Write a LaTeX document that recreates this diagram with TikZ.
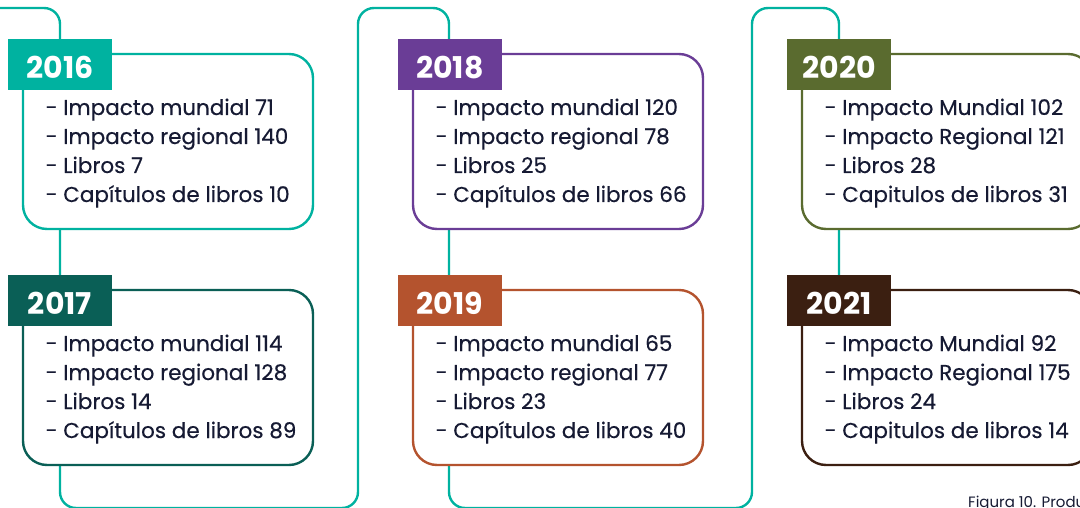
\documentclass[tikz,border=0pt]{standalone}
\usepackage{fontspec}
\setmainfont{Poppins}
\newfontfamily\itemfont[FakeBold=0.4]{Poppins}
\usetikzlibrary{calc}
\definecolor{tealc}{HTML}{00B2A0}
\definecolor{c16}{HTML}{00B2A0}
\definecolor{c17}{HTML}{0A5F56}
\definecolor{c18}{HTML}{6A3D96}
\definecolor{c19}{HTML}{B4532E}
\definecolor{c20}{HTML}{5A6B2F}
\definecolor{c21}{HTML}{3B1F11}
\definecolor{txt}{HTML}{161A33}
\tikzset{
  cardbox/.style={draw, line width=2.4pt, rounded corners=24pt, fill=white,
    minimum width=290pt, minimum height=175pt, inner sep=0pt, outer sep=0pt},
  yeartag/.style={minimum width=104pt, minimum height=51pt, inner sep=0pt},
  yeartext/.style={inner sep=0pt, text=white, font=\fontsize{30}{32}\selectfont\bfseries},
  itemline/.style={anchor=base west, inner sep=0pt, text=txt,
    font=\fontsize{21.5}{24}\itemfont},
  timeline/.style={draw=tealc, line width=2.4pt, rounded corners=16pt},
  caption/.style={anchor=base west, inner sep=0pt, text=txt,
    font=\fontsize{15}{17}\selectfont}
}
\newcommand\cardat[9]{%
  \node[cardbox, draw=#4] (#1box) at (#2+145,#3+87.5) {};
  \node[yeartag, fill=#4] (#1tag) at (#2-15+52,#3-15+25.5) {};
  \node[yeartext, anchor=base] (#1yr) at (#2-15+52,#3-15+39.5) {#5};
  \node[itemline] (#1a) at (#2+22.5,#3+61) {#6};
  \node[itemline] (#1b) at (#2+22.5,#3+90) {#7};
  \node[itemline] (#1c) at (#2+22.5,#3+119) {#8};
  \node[itemline] (#1d) at (#2+22.5,#3+148) {#9};
}
\begin{document}
\begin{tikzpicture}[x=1pt,y=-1pt]
\useasboundingbox (0,0) rectangle (1080,508);
\clip (0,0) rectangle (1080,508);
\coordinate (p0) at (-10,8);
\coordinate (p1) at (60,8);
\coordinate (p2) at (60,508);
\coordinate (p3) at (358,508);
\coordinate (p4) at (358,8);
\coordinate (p5) at (449,8);
\coordinate (p6) at (449,508);
\coordinate (p7) at (752,508);
\coordinate (p8) at (752,8);
\coordinate (p9) at (839,8);
\coordinate (p10) at (839,330);
\draw[timeline] (p0) -- (p1) -- (p2) -- (p3) -- (p4) -- (p5) -- (p6) -- (p7) -- (p8) -- (p9) -- (p10);
\cardat{y16}{23}{54}{c16}{2016}{- Impacto mundial 71}{- Impacto regional 140}{- Libros 7}{- Capítulos de libros 10}
\cardat{y17}{23}{290}{c17}{2017}{- Impacto mundial 114}{- Impacto regional 128}{- Libros 14}{- Capítulos de libros 89}
\cardat{y18}{413}{54}{c18}{2018}{- Impacto mundial 120}{- Impacto regional 78}{- Libros 25}{- Capítulos de libros 66}
\cardat{y19}{413}{290}{c19}{2019}{- Impacto mundial 65}{- Impacto regional 77}{- Libros 23}{- Capítulos de libros 40}
\cardat{y20}{802}{54}{c20}{2020}{- Impacto Mundial 102}{- Impacto Regional 121}{- Libros 28}{- Capitulos de libros 31}
\cardat{y21}{802}{290}{c21}{2021}{- Impacto Mundial 92}{- Impacto Regional 175}{- Libros 24}{- Capitulos de libros 14}
\node[caption] (cap) at (968,507) {Figura 10. Producción};
\end{tikzpicture}
\end{document}
